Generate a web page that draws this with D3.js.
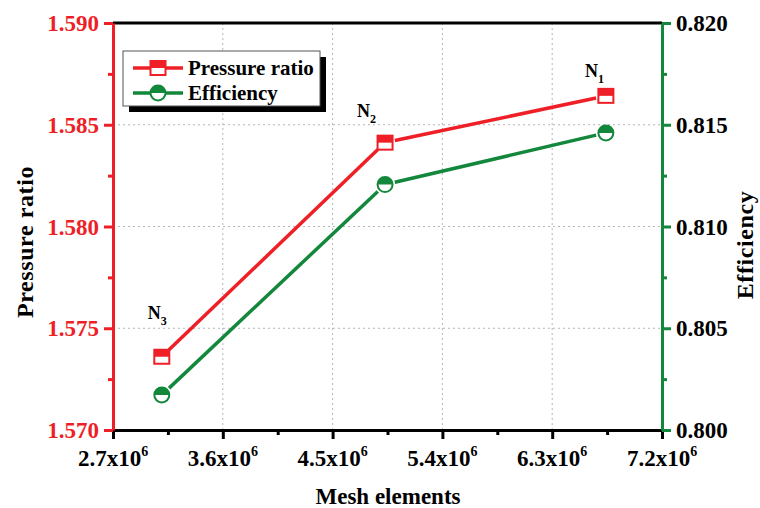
<!DOCTYPE html>
<html>
<head>
<meta charset="utf-8">
<script src="https://cdn.jsdelivr.net/npm/d3@7"></script>
<style>
  body { margin: 0; background: #fff; }
  text { font-family: "Liberation Serif", "Times New Roman", serif; font-weight: bold; }
</style>
</head>
<body>
<script>
// data
var meshElements = [3.10e6, 4.93e6, 6.74e6];
var pressureRatio = [1.5736, 1.58412, 1.58642];
var efficiency = [0.80172, 0.81206, 0.8146];
var meshNames = ["3", "2", "1"];   // N subscript
var xTicks = [2.7e6, 3.6e6, 4.5e6, 5.4e6, 6.3e6, 7.2e6];
var xTickLabels = ["2.7", "3.6", "4.5", "5.4", "6.3", "7.2"];
var prTicks = [1.570, 1.575, 1.580, 1.585, 1.590];
var effTicks = [0.800, 0.805, 0.810, 0.815, 0.820];

var width = 760, height = 508;
var RED = "#ee1f26", GREEN = "#13873b";

var svg = d3.select("body").append("svg")
    .attr("width", width)
    .attr("height", height);

var x = d3.scaleLinear().domain([2.7e6, 7.2e6]).range([113, 662]);
var yL = d3.scaleLinear().domain([1.570, 1.590]).range([430, 23]);
var yR = d3.scaleLinear().domain([0.800, 0.820]).range([430, 23]);

// grid
var grid = svg.append("g")
    .attr("stroke", "#b5b5b5")
    .attr("stroke-width", 1)
    .attr("stroke-dasharray", "2,3");
grid.selectAll("line.gx")
    .data(xTicks.slice(1, -1))
    .enter().append("line")
    .attr("x1", d => x(d)).attr("x2", d => x(d))
    .attr("y1", yL(1.590)).attr("y2", yL(1.570));
grid.selectAll("line.gy")
    .data(prTicks.slice(1, -1))
    .enter().append("line")
    .attr("x1", x(2.7e6)).attr("x2", x(7.2e6))
    .attr("y1", d => yL(d)).attr("y2", d => yL(d));

// axes
var xAxis = svg.append("g")
    .attr("transform", "translate(0," + yL(1.570) + ")")
    .call(d3.axisBottom(x).tickValues(d3.range(2.7e6, 7.25e6, 0.45e6)).tickSize(8).tickFormat("").tickSizeOuter(0));
xAxis.select(".domain").attr("stroke", "#000").attr("stroke-width", 3);
xAxis.selectAll(".tick line").attr("stroke", "#000").attr("stroke-width", 3)
    .attr("y2", (d, i) => i % 2 == 0 ? 9 : 5);

var xLab = svg.append("g").selectAll("text")
    .data(xTicks)
    .enter().append("text")
    .attr("x", d => x(d))
    .attr("y", 466)
    .attr("text-anchor", "middle")
    .attr("font-size", 23)
    .attr("fill", "#000");
xLab.append("tspan").text((d, i) => xTickLabels[i] + "x10");
xLab.append("tspan").attr("dy", -10).attr("font-size", 14).text("6");

// top frame
svg.append("line")
    .attr("x1", x(2.7e6)).attr("x2", x(7.2e6))
    .attr("y1", yL(1.590)).attr("y2", yL(1.590))
    .attr("stroke", "#000").attr("stroke-width", 3);

var leftAxis = svg.append("g")
    .attr("transform", "translate(" + x(2.7e6) + ",0)")
    .call(d3.axisLeft(yL).tickValues(d3.range(0, 9).map(i => 1.570 + i * 0.0025)).tickSize(9).tickFormat("").tickSizeOuter(0));
leftAxis.select(".domain").attr("stroke", RED).attr("stroke-width", 3);
leftAxis.selectAll(".tick line").attr("stroke", RED).attr("stroke-width", 3)
    .attr("x2", (d, i) => i % 2 == 0 ? -9 : -5);
svg.append("g").selectAll("text")
    .data(prTicks)
    .enter().append("text")
    .attr("x", 99)
    .attr("y", d => yL(d))
    .attr("dy", "0.35em")
    .attr("text-anchor", "end")
    .attr("font-size", 23)
    .attr("fill", RED)
    .text(d => d.toFixed(3));

var rightAxis = svg.append("g")
    .attr("transform", "translate(" + x(7.2e6) + ",0)")
    .call(d3.axisRight(yR).tickValues(d3.range(0, 9).map(i => 0.800 + i * 0.0025)).tickSize(9).tickFormat("").tickSizeOuter(0));
rightAxis.select(".domain").attr("stroke", GREEN).attr("stroke-width", 3);
rightAxis.selectAll(".tick line").attr("stroke", GREEN).attr("stroke-width", 3)
    .attr("x2", (d, i) => i % 2 == 0 ? 9 : 5);
svg.append("g").selectAll("text")
    .data(effTicks)
    .enter().append("text")
    .attr("x", 676)
    .attr("y", d => yR(d))
    .attr("dy", "0.35em")
    .attr("font-size", 23)
    .attr("fill", "#000")
    .text(d => d.toFixed(3));

// axis titles
svg.append("text")
    .attr("transform", "translate(33,242) rotate(-90)")
    .attr("text-anchor", "middle")
    .attr("font-size", 24)
    .attr("letter-spacing", 0.6)
    .text("Pressure ratio");
svg.append("text")
    .attr("transform", "translate(753,245) rotate(-90)")
    .attr("text-anchor", "middle")
    .attr("font-size", 24)
    .attr("letter-spacing", 0.6)
    .text("Efficiency");
svg.append("text")
    .attr("x", 388)
    .attr("y", 504)
    .attr("text-anchor", "middle")
    .attr("font-size", 23)
    .text("Mesh elements");

// lines with a small gap at each marker
function gapSegments(ys, yScale) {
    var pts = meshElements.map((m, i) => [x(m), yScale(ys[i])]);
    var segs = [];
    for (var i = 0; i < pts.length - 1; i++) {
        var a = pts[i], b = pts[i + 1];
        var dx = b[0] - a[0], dy = b[1] - a[1];
        var len = Math.sqrt(dx * dx + dy * dy), g = 10 / len;
        segs.push([a[0] + dx * g, a[1] + dy * g, b[0] - dx * g, b[1] - dy * g]);
    }
    return segs;
}

function drawSeries(ys, yScale, color) {
    svg.append("g").selectAll("line")
        .data(gapSegments(ys, yScale))
        .enter().append("line")
        .attr("x1", d => d[0]).attr("y1", d => d[1])
        .attr("x2", d => d[2]).attr("y2", d => d[3])
        .attr("stroke", color)
        .attr("stroke-width", 3.5);
}

function squareMarker(g, color) {
    g.append("rect").attr("x", -7.5).attr("y", -7).attr("width", 15).attr("height", 14)
        .attr("fill", "#fff").attr("stroke", color).attr("stroke-width", 2);
    g.append("rect").attr("x", -7.5).attr("y", -7).attr("width", 15).attr("height", 7)
        .attr("fill", color);
}

function circleMarker(g, color) {
    g.append("circle").attr("r", 7.5)
        .attr("fill", "#fff").attr("stroke", color).attr("stroke-width", 2);
    g.append("path").attr("d", "M-7.5,0A7.5,7.5 0 0 1 7.5,0Z").attr("fill", color);
}

drawSeries(pressureRatio, yL, RED);
drawSeries(efficiency, yR, GREEN);

svg.append("g").selectAll("g")
    .data(meshElements)
    .enter().append("g")
    .attr("transform", (d, i) => "translate(" + x(d) + "," + yL(pressureRatio[i]) + ")")
    .each(function () { squareMarker(d3.select(this), RED); });

svg.append("g").selectAll("g")
    .data(meshElements)
    .enter().append("g")
    .attr("transform", (d, i) => "translate(" + x(d) + "," + yR(efficiency[i]) + ")")
    .each(function () { circleMarker(d3.select(this), GREEN); });

// N labels
var labelOffsets = [[-14, -38], [-28, -26], [-21, -19]];
var nLab = svg.append("g").selectAll("text")
    .data(meshElements)
    .enter().append("text")
    .attr("x", (d, i) => x(d) + labelOffsets[i][0])
    .attr("y", (d, i) => yL(pressureRatio[i]) + labelOffsets[i][1])
    .attr("font-size", 18)
    .attr("fill", "#000");
nLab.append("tspan").text("N");
nLab.append("tspan").attr("dy", 6).attr("font-size", 12).text((d, i) => meshNames[i]);

// legend
var legend = svg.append("g").attr("transform", "translate(123,51)");
legend.append("rect").attr("x", 6).attr("y", 6).attr("width", 197).attr("height", 55).attr("fill", "#000");
legend.append("rect").attr("x", 0).attr("y", 0).attr("width", 197).attr("height", 55)
    .attr("fill", "#fff").attr("stroke", "#555").attr("stroke-width", 1);

var legendItems = [
    { name: "Pressure ratio", color: RED, marker: squareMarker },
    { name: "Efficiency", color: GREEN, marker: circleMarker }
];
legendItems.forEach(function (item, i) {
    var row = legend.append("g").attr("transform", "translate(0," + (17 + i * 25) + ")");
    row.append("line").attr("x1", 10).attr("x2", 60)
        .attr("stroke", item.color).attr("stroke-width", 3.5);
    item.marker(row.append("g").attr("transform", "translate(35,0)"), item.color);
    row.append("text").attr("x", 65).attr("dy", "0.33em")
        .attr("font-size", 21).text(item.name);
});
</script>
</body>
</html>
